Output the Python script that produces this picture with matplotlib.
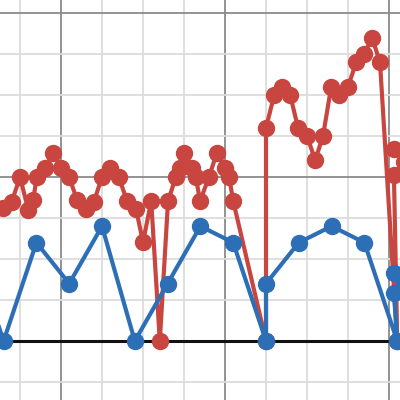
import matplotlib
matplotlib.use("Agg")
import matplotlib.pyplot as plt
from matplotlib.ticker import MultipleLocator

# --- Data (grid units: 1 minor cell = 1) ---
blue_x = [-2.2, -1.4, -0.6, 0.2, 1.0, 1.8, 2.6, 3.4, 4.2, 5.0, 5.0, 5.8, 6.6, 7.4, 8.2, 8.12, 8.37, 8.12]
blue_y = [2.4, 0, 2.4, 1.4, 2.8, 0, 1.4, 2.8, 2.4, 0, 1.4, 2.4, 2.8, 2.4, 0, 1.17, 1.41, 1.66]

red_x = [-1.41, -1.2, -1.0, -0.8, -0.68, -0.59, -0.39, -0.2, 0.0, 0.2, 0.39, 0.61, 0.8,
         1.0, 1.2, 1.41, 1.61, 1.83, 2.0, 2.2, 2.41, 2.61, 2.8, 2.9, 3.0, 3.2, 3.29,
         3.39, 3.61, 3.8, 4.0, 4.1, 4.2, 5.0, 5.0, 5.2, 5.39, 5.59, 5.78, 6.0, 6.2,
         6.39, 6.59, 6.78, 7.0, 7.2, 7.39, 7.59, 7.78, 8.2, 8.12, 8.37, 8.12]
red_y = [3.25, 3.4, 4.0, 3.2, 3.44, 4.0, 4.22, 4.59, 4.22, 4.0, 3.44, 3.22, 3.39,
         4.0, 4.22, 4.0, 3.41, 3.22, 2.41, 3.41, 0.0, 3.41, 4.0, 4.22, 4.59, 4.22, 4.0,
         3.41, 4.0, 4.59, 4.22, 4.0, 3.41, 0.0, 5.2, 6.0, 6.2, 6.0, 5.2, 5.0, 4.41,
         5.0, 6.2, 6.0, 6.2, 6.8, 7.0, 7.39, 6.8, 0.0, 4.05, 4.37, 4.68]

red = '#c9453f'
blue = '#2d6fb6'

fig = plt.figure(figsize=(4, 4), dpi=100)
ax = fig.add_axes([0, 0, 1, 1])

# Viewport
ax.set_xlim(-1.488, 8.268)
ax.set_ylim(-1.439, 8.317)

# Grid
ax.xaxis.set_major_locator(MultipleLocator(4))
ax.yaxis.set_major_locator(MultipleLocator(4))
ax.xaxis.set_minor_locator(MultipleLocator(1))
ax.yaxis.set_minor_locator(MultipleLocator(1))
ax.grid(which='minor', color='#dcdcdc', linewidth=1.3, zorder=0)
ax.grid(which='major', color='#8a8a8a', linewidth=1.3, zorder=0)
ax.set_axisbelow(True)
ax.tick_params(which='both', length=0, labelbottom=False, labelleft=False)
for s in ax.spines.values():
    s.set_visible(False)

# Zero line
ax.axhline(0, color='#111111', linewidth=2.2, zorder=1)

# Series
ax.plot(red_x, red_y, '-o', color=red, linewidth=3.0, markersize=11.5, zorder=2)
ax.plot(blue_x, blue_y, '-o', color=blue, linewidth=3.0, markersize=11.5, zorder=3)

fig.savefig('out.png', dpi=100)
